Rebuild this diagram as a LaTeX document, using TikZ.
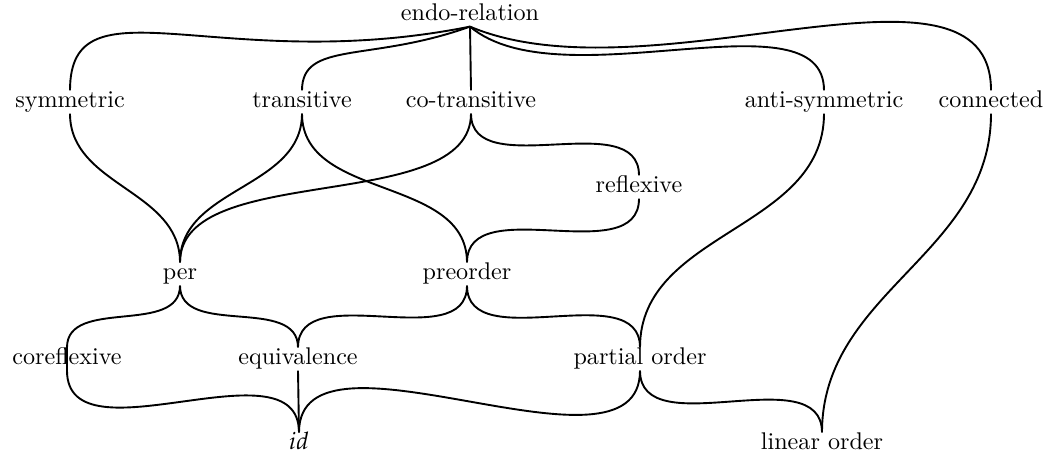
\documentclass[tikz,border=0pt]{standalone}
\usepackage{mathpazo}
\begin{document}
\begin{tikzpicture}[x=0.4227pt,y=-0.4227pt,
  lbl/.style={inner sep=0.5pt,text height=6.6pt,text depth=1.8pt,font=\fontsize{10.2}{12}\selectfont},
  edge/.style={line width=0.8pt},
  down/.style={out=-90,in=90}]
\useasboundingbox (0,0) rectangle (1055,460);
% nodes
\node[lbl] (endo)  at (470,15)  {endo-relation};
\node[lbl] (sym)   at (70,102)  {symmetric};
\node[lbl] (tra)   at (302,102) {transitive};
\node[lbl] (cot)   at (471,102) {co-transitive};
\node[lbl] (anti)  at (824,102) {anti-symmetric};
\node[lbl] (con)   at (991,102) {connected};
\node[lbl] (refl)  at (639,187) {reflexive};
\node[lbl] (per)   at (180,274) {per};
\node[lbl] (pre)   at (467,274) {preorder};
\node[lbl] (coref) at (67,359)  {coreflexive};
\node[lbl] (equiv) at (298,359) {equivalence};
\node[lbl] (part)  at (640,359) {partial order};
\node[lbl] (id)    at (299,444) {$id$};
\node[lbl] (lin)   at (822,444) {linear order};
% edges from endo-relation
\draw[edge] (endo.south) .. controls +(-250,50) and +(0,-115) .. (sym.north);
\draw[edge] (endo.south) .. controls +(-100,36) and +(0,-50) .. (tra.north);
\draw[edge] (endo.south) -- (cot.north);
\draw[edge] (endo.south) .. controls +(90,76) and +(0,-100) .. (anti.north);
\draw[edge] (endo.south) .. controls +(180,76) and +(0,-155) .. (con.north);
% second level
\draw[edge] (sym.south) to[down] (per.north);
\draw[edge] (tra.south) to[down] (per.north);
\draw[edge] (tra.south) to[down] (pre.north);
\draw[edge] (cot.south) to[down,looseness=0.8] (per.north);
\draw[edge] (cot.south) to[down] (refl.north);
\draw[edge] (refl.south) to[down] (pre.north);
\draw[edge] (anti.south) to[down] (part.north);
\draw[edge] (con.south) to[down] (lin.north);
% third level
\draw[edge] (per.south) to[down] (coref.north) -- (coref.south) to[down] (id.north);
\draw[edge] (per.south) to[down] (equiv.north);
\draw[edge] (pre.south) to[down] (equiv.north);
\draw[edge] (pre.south) to[down] (part.north);
\draw[edge] (equiv.south) -- (id.north);
\draw[edge] (part.south) to[down,looseness=0.9] (id.north);
\draw[edge] (part.south) to[down] (lin.north);
\end{tikzpicture}
\end{document}
